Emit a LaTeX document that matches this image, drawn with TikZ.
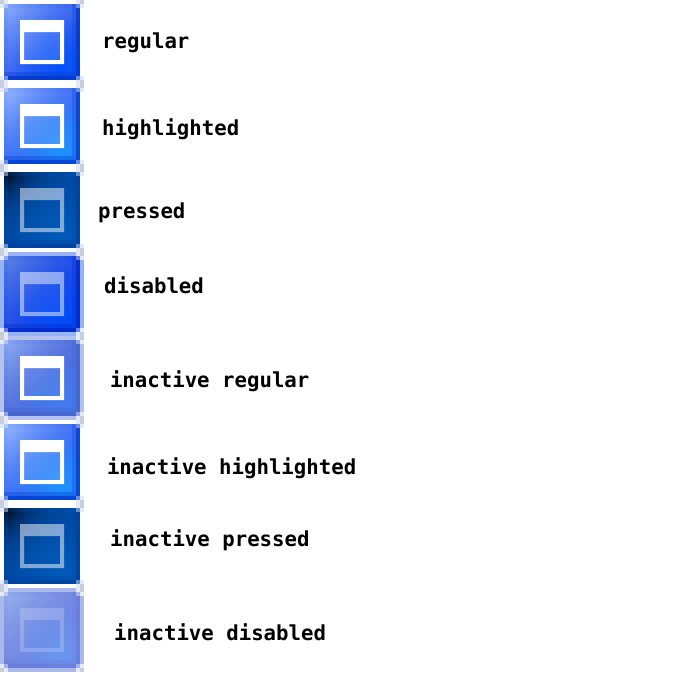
\documentclass[tikz,border=0pt]{standalone}
\usepackage{fontspec}
\setmonofont{DejaVu Sans Mono}
\definecolor{cornergrey}{RGB}{200,205,218}
\definecolor{haloA}{RGB}{228,233,252}
\definecolor{haloB}{RGB}{150,180,245}
\definecolor{haloC}{RGB}{180,195,238}
\definecolor{haloD}{RGB}{170,185,235}
\tikzset{
  lbl/.style={anchor=base west,inner sep=0pt,font=\ttfamily\bfseries\fontsize{20.7}{24}\selectfont,text=black},
}
% channel value from TL/centre/glow/edge, using \tlw \glw \edw
\def\chan#1/#2/#3/#4\relax#5{%
  \pgfmathtruncatemacro#5{min(255,max(0,((#2)+\tlw*((#1)-(#2))+\glw*((#3)-(#2)))*(1-\edw)+\edw*(#4)))}}
\newcommand{\iconbtn}[8]{%
  \def\specR{#2}\def\specG{#3}\def\specB{#4}%
  \begin{scope}[shift={(0,#1-4)}]
    \fill[#7] (0,4) rectangle (84,80);
    \fill[#7] (4,0) rectangle (80,84);
    \foreach \cx/\cy in {4/0,0/4,76/0,80/4,4/80,0/76,76/80,80/76}{\fill[haloA] (\cx,\cy) rectangle +(4,4);}
    \foreach \cx/\cy in {0/0,80/0,0/80,80/80}{\fill[cornergrey] (\cx,\cy) rectangle +(4,4);}
    \foreach \i in {0,...,18}{
      \foreach \j in {0,...,18}{
        \pgfmathsetmacro{\tlw}{pow(max(0,1-(abs(\i-1)+abs(\j-1))/20),#8)}
        \pgfmathsetmacro{\glw}{max(0,1-sqrt((\i-14)*(\i-14)+(\j-15)*(\j-15))/13)}
        \pgfmathsetmacro{\edw}{max(\i==18?0.8:(\i==17?0.25:0),\j==18?0.85:(\j==17?0.35:0))}
        \expandafter\chan\specR\relax\ir
        \expandafter\chan\specG\relax\ig
        \expandafter\chan\specB\relax\ib
        \definecolor{cellc}{RGB}{\ir,\ig,\ib}
        \fill[cellc] (4+4*\i,4+4*\j) rectangle +(4.2,4.2);
      }
    }
    \foreach \cx/\cy in {4/4,76/4,4/76,76/76}{\fill[white,opacity=0.4] (\cx,\cy) rectangle +(4,4);}
    \fill[white,opacity=#5,even odd rule] (20,20) rectangle (64,64) (24,32) rectangle (60,60);
    \fill[white,opacity=#6] (24,32) rectangle (60,60);
  \end{scope}
}
\begin{document}
\begin{tikzpicture}[x=1pt,y=-1pt]
\useasboundingbox (0,0) rectangle (700,672);
\fill[white] (0,0) rectangle (700,672);
\iconbtn{4}{130/55/0/0}{165/100/80/55}{250/240/250/200}{1}{0.14}{white}{1.5}
\iconbtn{88}{140/60/30/0}{175/110/145/60}{250/245/255/205}{1}{0.12}{white}{1.5}
\iconbtn{172}{0/0/0/0}{25/75/92/65}{60/165/185/160}{0.5}{0.0}{white}{3}
\iconbtn{256}{85/30/0/0}{125/75/75/40}{230/230/250/200}{0.5}{0.05}{haloB}{1.5}
\iconbtn{340}{135/80/65/70}{165/110/125/100}{240/220/240/205}{1}{0.06}{haloC}{1.5}
\iconbtn{424}{140/60/30/0}{175/110/145/60}{250/245/255/205}{1}{0.12}{white}{1.5}
\iconbtn{508}{0/0/0/0}{25/75/92/65}{60/165/185/160}{0.5}{0.0}{white}{3}
\iconbtn{592}{145/115/105/105}{170/135/150/125}{235/225/240/220}{0.2}{0.0}{haloD}{1.5}
\node[lbl] (a) at (102,48) {regular};
\node[lbl] (b) at (102,135) {highlighted};
\node[lbl] (c) at (98,218) {pressed};
\node[lbl] (d) at (104,293) {disabled};
\node[lbl] (e) at (109.8,387) {inactive regular};
\node[lbl] (f) at (106.8,474) {inactive highlighted};
\node[lbl] (g) at (110,546) {inactive pressed};
\node[lbl] (h) at (114,640) {inactive disabled};
\end{tikzpicture}
\end{document}
